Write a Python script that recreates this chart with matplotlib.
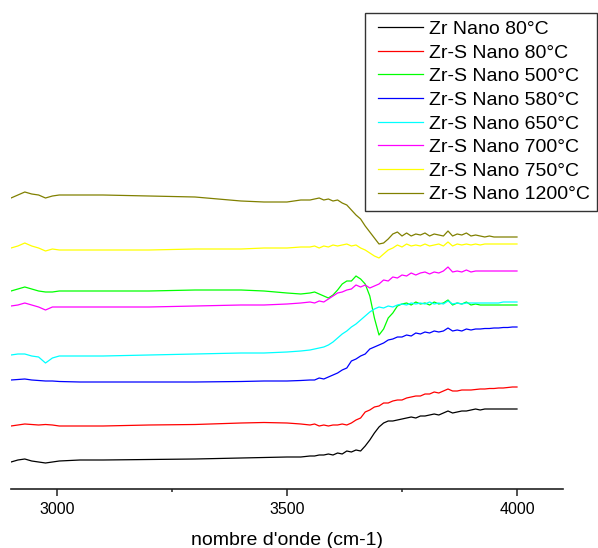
import matplotlib
matplotlib.use("Agg")
import matplotlib.pyplot as plt
from matplotlib.legend_handler import HandlerLine2D
from matplotlib.lines import Line2D

plt.rcParams['font.family'] = ['Liberation Sans', 'DejaVu Sans']

# wavenumber grid (cm-1)
wavenumber = [2900, 2915, 2930, 2945, 2960, 2975, 2990, 3005, 3050, 3100,
              3200, 3300, 3400, 3450, 3500, 3530] + list(range(3550, 4001, 10))

# offset spectra, arbitrary units
zr_80 = [38, 40, 41, 39, 38, 37, 38, 39, 40, 40, 40.5, 41, 42, 42.5, 43, 43,
         44, 44, 45, 45, 46, 45, 47, 46, 49, 48, 50, 49, 54, 60, 67, 73, 77, 79, 79, 80,
         81, 82, 83, 82, 84, 84, 85, 86, 85, 87, 89, 87, 88, 89, 89, 90, 91, 90, 91, 91,
         91, 91, 91, 91, 91, 91]
zrs_80 = [74, 75, 76, 75.5, 75, 75.5, 75, 74, 74, 74, 75, 75.5, 77, 77.5, 77, 76,
          75, 76, 74, 75, 74, 75, 75, 76, 75, 77, 80, 82, 88, 90, 93, 94, 97, 97, 99, 100,
          100, 102, 103, 104, 104, 106, 106, 108, 107, 109, 111, 109, 109, 110, 110, 110,
          110.5, 111, 111, 111.5, 111.5, 112, 112, 112.5, 113, 113]
zrs_500 = [209, 211, 213, 211, 209, 208, 208, 209, 209, 209, 209, 210, 210, 209, 207, 206,
           207, 208, 206, 204, 202, 205, 210, 216, 219, 219, 224, 221, 216, 204, 182, 165,
           171, 182, 187, 194, 196, 197, 195, 198, 196, 197, 195, 198, 196, 197, 200, 195,
           197, 196, 198, 195, 196, 195, 195, 195, 195, 195, 195, 195, 195, 195]
zrs_580 = [120, 120.5, 121, 120, 119.5, 119, 119, 118.5, 118, 118, 118, 118, 118.5, 119, 119, 119.5,
           120, 120, 122, 121, 123, 125, 127, 130, 132, 139, 141, 144, 146, 151, 153, 155,
           157, 160, 161, 163, 163, 165, 164, 167, 166, 168, 167, 169, 168, 169, 172, 169,
           170, 169, 171, 170, 171, 171, 171.5, 171.5, 172, 172, 172.5, 172.5, 173, 173]
zrs_650 = [145, 146, 146, 144, 143, 137, 142, 144, 144, 144, 145, 146, 147, 147, 148, 149,
           150, 151, 152, 153, 155, 158, 162, 166, 169, 173, 176, 180, 184, 188, 191, 193,
           192, 194, 193, 195, 196, 195, 197, 196, 197, 196, 198, 196, 197, 196, 199, 196,
           197, 196, 197, 197, 197, 197, 197, 197, 197, 197, 198, 198, 198, 198]
zrs_700 = [194, 195, 197, 195, 193, 190, 193, 193, 193, 193, 193, 194, 195, 195, 196, 197,
           198, 197, 199, 198, 201, 204, 207, 208, 210, 211, 215, 213, 215, 212, 214, 216,
           220, 219, 223, 222, 225, 224, 227, 225, 227, 228, 226, 228, 227, 229, 233, 228,
           229, 228, 230, 228, 229, 229, 229, 229, 229, 229, 229, 229, 229, 229]
zrs_750 = [252, 254, 257, 254, 252, 249, 251, 250, 250, 250, 250, 251, 251, 252, 252, 253,
           253, 254, 252, 254, 253, 255, 254, 255, 256, 254, 255, 252, 250, 247, 244, 242,
           246, 250, 252, 255, 253, 256, 254, 255, 254, 256, 254, 255, 256, 254, 258, 254,
           256, 255, 256, 255, 256, 255, 256, 256, 256, 256, 256, 256, 256, 256]
zrs_1200 = [302, 305, 308, 306, 305, 302, 304, 305, 305, 305, 304, 303, 299, 298, 298, 300,
            300, 301, 302, 300, 301, 299, 300, 297, 295, 290, 285, 281, 274, 268, 262, 256,
            257, 261, 266, 268, 264, 267, 264, 266, 265, 267, 264, 266, 265, 264, 269, 264,
            266, 265, 267, 264, 265, 264, 263, 264, 263, 263, 263, 263, 263, 263]

labels = ["Zr Nano 80°C", "Zr-S Nano 80°C", "Zr-S Nano 500°C", "Zr-S Nano 580°C",
          "Zr-S Nano 650°C", "Zr-S Nano 700°C", "Zr-S Nano 750°C", "Zr-S Nano 1200°C"]
series = [zr_80, zrs_80, zrs_500, zrs_580, zrs_650, zrs_700, zrs_750, zrs_1200]
line_colors = ["#000000", "#ff0000", "#00ff00", "#0000ff",
               "#00ffff", "#ff00ff", "#ffff00", "#808000"]

fig = plt.figure(figsize=(5.98, 5.48), dpi=100)
ax = fig.add_axes([11 / 598, 1 - 489 / 548, 552 / 598, 489 / 548])

for y, c, lab in zip(series, line_colors, labels):
    ax.plot(wavenumber, y, color=c, lw=0.9, label=lab)

ax.set_xlim(2900, 4100)
ax.set_ylim(11, 500)
ax.set_xticks([3000, 3500, 4000])
ax.set_xticks([3250, 3750], minor=True)
ax.set_yticks([])
for s in ["top", "right", "left"]:
    ax.spines[s].set_visible(False)
ax.spines["bottom"].set_linewidth(1.2)
ax.spines["bottom"].set_color("#222222")
ax.tick_params(axis="x", which="major", direction="out", length=5, width=1.1,
               labelsize=11.5, pad=4, color="#222222")
ax.tick_params(axis="x", which="minor", direction="out", length=2.4, width=1.1,
               color="#222222")
ax.set_xlabel("nombre d'onde (cm-1)", fontsize=14, labelpad=11)

# legend sits partly outside the axes, anchored in figure coordinates
leg = ax.legend(loc="upper right", bbox_to_anchor=(597 / 598, 1 - 13 / 548),
                bbox_transform=fig.transFigure, fontsize=14, frameon=True,
                fancybox=False, edgecolor="#333333", framealpha=1,
                handlelength=2.6, handletextpad=0.3, labelspacing=0.31,
                borderpad=0.38, borderaxespad=0,
                handler_map={Line2D: HandlerLine2D(xpad=0.31)})
leg.get_frame().set_linewidth(1.0)

fig.savefig("out.png", dpi=100)
